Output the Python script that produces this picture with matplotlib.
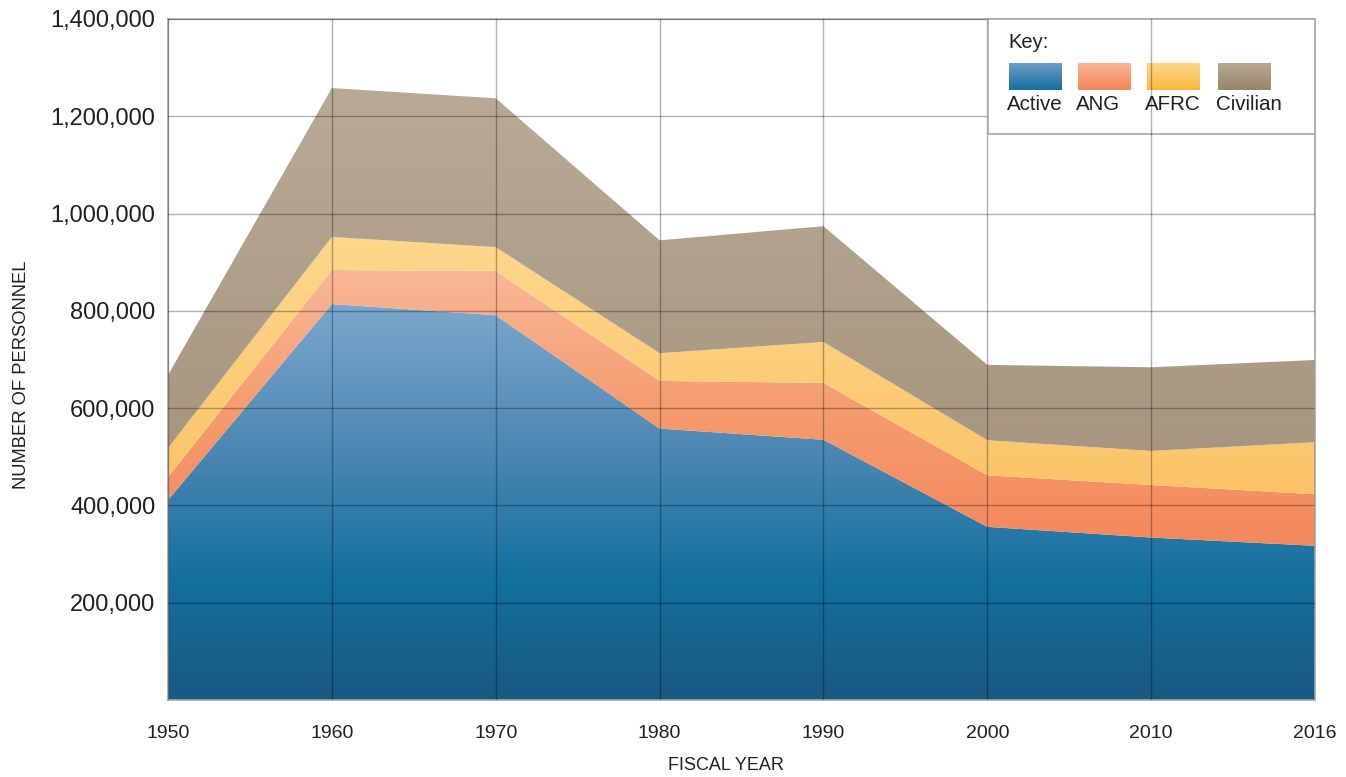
import numpy as np
import matplotlib
matplotlib.use("Agg")
import matplotlib.pyplot as plt
from matplotlib.colors import LinearSegmentedColormap
from matplotlib.patches import Rectangle, Polygon
from matplotlib.lines import Line2D
from matplotlib.ticker import FuncFormatter

#%% Data (personnel per component, stacked)
years = ["1950", "1960", "1970", "1980", "1990", "2000", "2010", "2016"]
active = [411000, 814000, 791000, 558000, 535000, 356000, 334000, 317000]
ang = [47000, 70000, 91000, 98000, 117000, 106000, 108000, 106000]
afrc = [60000, 68000, 49000, 57000, 84000, 72000, 70000, 107000]
civilian = [150000, 306000, 306000, 232000, 238000, 155000, 172000, 169000]
series_names = ["Active", "ANG", "AFRC", "Civilian"]
y_ticks = [200000, 400000, 600000, 800000, 1000000, 1200000, 1400000]

W, H = 1346, 777
FONT = ["Liberation Sans", "DejaVu Sans"]
TXT = "#231f20"

# gradients along the value axis: (value, colour) stops
grad_stops = {
    "Active": [(0, "#1a5882"), (250000, "#13709e"), (500000, "#4a86b2"), (850000, "#80abd1")],
    "ANG": [(300000, "#f4875a"), (600000, "#f59c70"), (900000, "#f9b999")],
    "AFRC": [(400000, "#fbc266"), (950000, "#fed78d")],
    "Civilian": [(450000, "#a5957e"), (1300000, "#b9ab98")],
}
legend_grad = {
    "Active": ("#6f9fca", "#146f9f"),
    "ANG": ("#f9b596", "#f4865a"),
    "AFRC": ("#fed68a", "#fbb940"),
    "Civilian": ("#b7a895", "#958569"),
}

YMAX = 1400000


def make_cmap(stops):
    pos = [min(max(v / YMAX, 0), 1) for v, c in stops]
    if pos[0] > 0:
        stops = [(0, stops[0][1])] + stops
        pos = [0] + pos
    if pos[-1] < 1:
        stops = stops + [(YMAX, stops[-1][1])]
        pos = pos + [1]
    return LinearSegmentedColormap.from_list("g", list(zip(pos, [c for v, c in stops])))


def fpx(x, y):
    return x / W, 1 - y / H


fig = plt.figure(figsize=(W / 100, H / 100), dpi=100)
l, b = fpx(168, 700)
ax = fig.add_axes([l, b, (1315 - 168) / W, (700 - 19) / H])

x = np.arange(len(years))
layers = [active, ang, afrc, civilian]
base = np.zeros(len(years))
grad = np.linspace(0, 1, 512).reshape(-1, 1)
for name, vals in zip(series_names, layers):
    top = base + np.array(vals)
    verts = list(zip(x, top)) + list(zip(x[::-1], base[::-1]))
    poly = Polygon(verts, closed=True, facecolor="none", edgecolor="none")
    ax.add_patch(poly)
    im = ax.imshow(grad, cmap=make_cmap(grad_stops[name]), origin="lower",
                   extent=[0, len(years) - 1, 0, YMAX], aspect="auto", zorder=1)
    im.set_clip_path(poly)
    base = top

ax.set_xlim(0, len(years) - 1)
ax.set_ylim(0, YMAX)
ax.set_xticks(x)
ax.set_xticklabels(years, fontsize=14, family=FONT, color=TXT)
ax.set_yticks(y_ticks)
ax.yaxis.set_major_formatter(FuncFormatter(lambda v, p: f"{int(v):,}"))
for t in ax.get_yticklabels():
    t.set_fontsize(17)
    t.set_family(FONT)
    t.set_color(TXT)
ax.tick_params(axis="both", length=0)
ax.tick_params(axis="y", pad=9)
ax.tick_params(axis="x", pad=18)
ax.grid(True, color="black", alpha=0.3, lw=1, zorder=3)
ax.set_axisbelow(False)
for s in ax.spines.values():
    s.set_color("#a8a8a8")
    s.set_linewidth(1.2)

fig.text(726 / W, 1 - 766 / H, "FISCAL YEAR", fontsize=13, family=FONT, color=TXT,
         ha="center", va="center")
fig.text(22 / W, 1 - 375 / H, "NUMBER OF PERSONNEL", rotation=90, fontsize=13.2,
         family=FONT, color=TXT, ha="center", va="center")

# key box
x0, y0 = fpx(988, 134)
x1, y1 = fpx(1315, 19)
fig.add_artist(Rectangle((x0, y0), x1 - x0, y1 - y0, transform=fig.transFigure,
                         facecolor="white", edgecolor="#a8a8a8", lw=1.2, zorder=2))
fig.text(1008 / W, 1 - 43 / H, "Key:", fontsize=14.5, family=FONT, color=TXT,
         ha="left", va="center", zorder=5)
patch_x = [1009, 1078, 1147, 1218]
for px, name in zip(patch_x, series_names):
    pl, pb = fpx(px, 90)
    pax = fig.add_axes([pl, pb, 53 / W, 27 / H], zorder=3)
    c_top, c_bot = legend_grad[name]
    pax.imshow(grad, cmap=LinearSegmentedColormap.from_list("l", [c_bot, c_top]),
               origin="lower", aspect="auto", extent=[0, 1, 0, 1])
    pax.set_axis_off()
    fig.text((px - 2) / W, 1 - 104 / H, name, fontsize=14.8, family=FONT, color=TXT,
             ha="left", va="center", zorder=5)
# gridline that shows through the key box
lx = 1151 / W
fig.add_artist(Line2D([lx, lx], [y0, y1], transform=fig.transFigure,
                      color="black", alpha=0.3, lw=1, zorder=6))

fig.savefig("out.png", dpi=100)
